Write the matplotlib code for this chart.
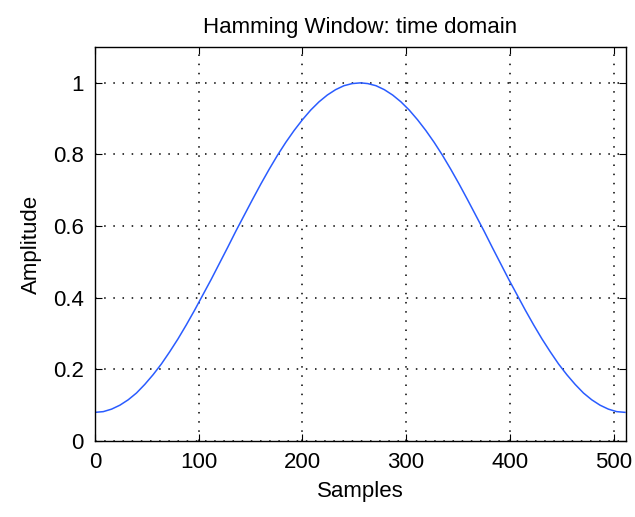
import numpy as np
import matplotlib
matplotlib.use('Agg')
from matplotlib import pyplot as plt

# Hamming window, 512 samples, taken every 8 samples
samples = [0, 8, 16, 24, 32, 40, 48, 56, 64, 72, 80, 88, 96, 104, 112, 120, 128,
           136, 144, 152, 160, 168, 176, 184, 192, 200, 208, 216, 224, 232, 240, 248, 256,
           263, 271, 279, 287, 295, 303, 311, 319, 327, 335, 343, 351, 359, 367, 375, 383,
           391, 399, 407, 415, 423, 431, 439, 447, 455, 463, 471, 479, 487, 495, 503, 511]
amplitude = [0.080, 0.082, 0.089, 0.100, 0.115, 0.134, 0.158, 0.185, 0.215, 0.249,
             0.285, 0.324, 0.365, 0.408, 0.451, 0.496, 0.541, 0.587, 0.631, 0.675,
             0.718, 0.759, 0.798, 0.834, 0.867, 0.897, 0.924, 0.947, 0.966, 0.981,
             0.992, 0.998, 1.000,
             0.998, 0.992, 0.981, 0.966, 0.947, 0.924, 0.897, 0.867, 0.834, 0.798,
             0.759, 0.718, 0.675, 0.631, 0.587, 0.541, 0.496, 0.451, 0.408, 0.365,
             0.324, 0.285, 0.249, 0.215, 0.185, 0.158, 0.134, 0.115, 0.100, 0.089,
             0.082, 0.080]
x_ticks = [0, 100, 200, 300, 400, 500]
y_ticks = [0, 0.2, 0.4, 0.6, 0.8, 1]

plt.rcParams['font.family'] = ['Liberation Sans', 'DejaVu Sans']

fig = plt.figure(figsize=(6.35, 5.17), dpi=100)
ax = fig.add_axes([0.1496, 0.147, 0.8362, 0.762])

ax.plot(samples, amplitude, color='#2a5cff', linewidth=1.1)

ax.set_xlim([0, 512])
ax.set_ylim([0, 1.1])
ax.set_xticks(x_ticks)
ax.set_yticks(y_ticks)
ax.set_yticklabels(['0', '0.2', '0.4', '0.6', '0.8', '1'])
ax.grid(True, color='black', linestyle=(0, (1, 5)), linewidth=1.1)
ax.tick_params(direction='in', length=5, top=True, right=True, labelsize=16, pad=8)
for s in ax.spines.values():
    s.set_linewidth(1.0)

ax.set_title("Hamming Window: time domain", fontsize=16, pad=10)
ax.set_xlabel("Samples", fontsize=16, labelpad=6)
ax.set_ylabel("Amplitude", fontsize=16, labelpad=8)

fig.savefig("out.png", dpi=100)
